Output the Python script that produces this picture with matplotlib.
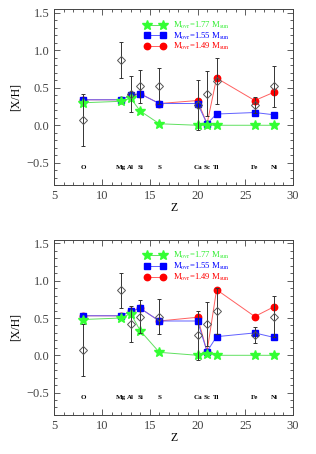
import numpy as np
import matplotlib
matplotlib.use('Agg')
import matplotlib.pyplot as plt
from matplotlib.ticker import MultipleLocator

# atomic numbers and element names
z = [8, 12, 13, 14, 16, 20, 21, 22, 26, 28]
names = ['O', 'Mg', 'Al', 'Si', 'S', 'Ca', 'Sc', 'Ti', 'Fe', 'Ni']

# observed abundances (same in both panels)
obs = [0.07, 0.87, 0.42, 0.52, 0.52, 0.27, 0.42, 0.59, 0.27, 0.52]
obs_err = [0.35, 0.24, 0.24, 0.22, 0.24, 0.33, 0.30, 0.31, 0.11, 0.27]

# models, top panel
green_top = [0.30, 0.32, 0.36, 0.19, 0.02, 0.0, 0.0, 0.0, 0.0, 0.0]
blue_top = [0.34, 0.34, 0.40, 0.42, 0.29, 0.29, 0.02, 0.15, 0.17, 0.14]
red_top = [0.34, 0.34, 0.40, 0.42, 0.29, 0.33, 0.02, 0.63, 0.33, 0.44]

# models, bottom panel
green_bot = [0.48, 0.50, 0.56, 0.33, 0.04, 0.0, 0.02, 0.0, 0.0, 0.0]
blue_bot = [0.53, 0.53, 0.59, 0.63, 0.46, 0.46, 0.05, 0.25, 0.30, 0.24]
red_bot = [0.53, 0.53, 0.59, 0.63, 0.46, 0.51, 0.05, 0.88, 0.52, 0.65]

labels = [r'M$_{\rm ovr}$=1.77 M$_{\rm sun}$',
          r'M$_{\rm ovr}$=1.55 M$_{\rm sun}$',
          r'M$_{\rm ovr}$=1.49 M$_{\rm sun}$']

plt.rcParams['font.family'] = ['Liberation Serif', 'DejaVu Serif']
plt.rcParams['mathtext.fontset'] = 'stix'

fig = plt.figure(figsize=(3.16, 4.54), dpi=100)
ax1 = fig.add_axes([0.172, 0.592, 0.755, 0.388])
ax2 = fig.add_axes([0.172, 0.086, 0.755, 0.386])


def panel(ax, green, blue, red):
    hr, = ax.plot(z, red, '-', color='#ff6060', lw=0.7, marker='o', ms=4.6,
                  mfc='red', mec='red', zorder=2)
    hb, = ax.plot(z, blue, '-', color='#6060ff', lw=0.7, marker='s', ms=4.8,
                  mfc='blue', mec='blue', zorder=3)
    hg, = ax.plot(z, green, '-', color='#60e060', lw=0.7, marker='*', ms=7,
                  mfc='#33ff33', mec='#33ff33', zorder=4)
    ax.errorbar(z, obs, yerr=obs_err, fmt='D', ms=3.8, mfc='none',
                mec='#555555', mew=0.7, ecolor='#333333', elinewidth=0.7,
                capsize=1.3, capthick=0.7, zorder=5)
    for zi, n in zip(z, names):
        ax.text(zi, -0.57, n, ha='center', va='center', fontsize=5,
                fontweight='bold')
    ax.set_xlim(5, 30)
    ax.set_ylim(-0.8, 1.55)
    ax.xaxis.set_major_locator(MultipleLocator(5))
    ax.xaxis.set_minor_locator(MultipleLocator(1))
    ax.yaxis.set_major_locator(MultipleLocator(0.5))
    ax.yaxis.set_minor_locator(MultipleLocator(0.1))
    ax.tick_params(which='both', direction='in', top=True, right=True,
                   labelsize=9, colors='#444444', width=0.6)
    ax.tick_params(which='major', length=4.5)
    ax.tick_params(which='minor', length=2.2)
    for s in ax.spines.values():
        s.set_linewidth(0.7)
        s.set_color('#444444')
    ax.set_xlabel('Z', fontsize=8.5, labelpad=0)
    ax.set_ylabel('[X/H]', fontsize=8.5)
    leg = ax.legend([hg, hb, hr], labels, loc='upper left',
                    bbox_to_anchor=(0.377, 0.94), numpoints=2, frameon=False,
                    fontsize=6.2, handlelength=2.5, handletextpad=0.85,
                    labelspacing=-0.05, borderaxespad=0, borderpad=0)
    for t, c in zip(leg.get_texts(), ['#33ee33', 'blue', 'red']):
        t.set_color(c)


panel(ax1, green_top, blue_top, red_top)
panel(ax2, green_bot, blue_bot, red_bot)

fig.savefig('out.png', dpi=100)
